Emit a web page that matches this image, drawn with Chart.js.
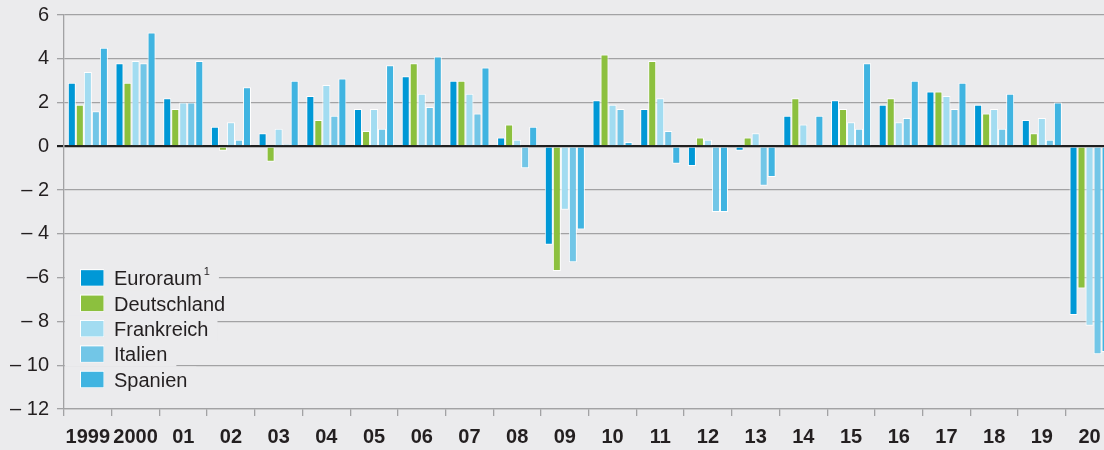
<!DOCTYPE html>
<html>
<head>
<meta charset="utf-8">
<script src="https://cdn.jsdelivr.net/npm/chart.js@4/dist/chart.umd.min.js"></script>
<style>
html,body{margin:0;padding:0;background:#ebebed;overflow:hidden;width:1104px;height:450px;}
#wrap{width:1120px;height:450px;}
canvas{display:block;}
</style>
</head>
<body>
<div id="wrap"><canvas id="c" width="1120" height="450"></canvas></div>
<script>
const categories = ['1999','2000','01','02','03','04','05','06','07','08','09','10','11','12','13','14','15','16','17','18','19','20'];
const seriesNames = ['Euroraum','Deutschland','Frankreich','Italien','Spanien'];
const legendSuperscripts = ['1','','','',''];
const euroraum    = [2.9,3.8,2.2,0.9,0.6,2.3,1.7,3.2,3.0,0.4,-4.5,2.1,1.7,-0.9,-0.2,1.4,2.1,1.9,2.5,1.9,1.2,-7.7];
const deutschland = [1.9,2.9,1.7,-0.2,-0.7,1.2,0.7,3.8,3.0,1.0,-5.7,4.2,3.9,0.4,0.4,2.2,1.7,2.2,2.5,1.5,0.6,-6.5];
const frankreich  = [3.4,3.9,2.0,1.1,0.8,2.8,1.7,2.4,2.4,0.3,-2.9,1.9,2.2,0.3,0.6,1.0,1.1,1.1,2.3,1.7,1.3,-8.2];
const italien     = [1.6,3.8,2.0,0.3,0.1,1.4,0.8,1.8,1.5,-1.0,-5.3,1.7,0.7,-3.0,-1.8,0.0,0.8,1.3,1.7,0.8,0.3,-9.5];
const spanien     = [4.5,5.2,3.9,2.7,3.0,3.1,3.7,4.1,3.6,0.9,-3.8,0.2,-0.8,-3.0,-1.4,1.4,3.8,3.0,2.9,2.4,2.0,-9.4];
const yTickValues = [-12,-10,-8,-6,-4,-2,0,2,4,6];
const yTickLabels = ['\u2013 12','\u2013 10','\u2013 8','\u20136','\u2013 4','\u2013 2','0','2','4','6'];

const colors = ['#0098d6','#8cc03e','#a2dcf1','#72c6e7','#40b4e1'];
const seriesData = [euroraum, deutschland, frankreich, italien, spanien];
const FONT = '"Liberation Sans", Arial, Helvetica, sans-serif';
const TEXT = '#231f20';
const GRID = '#a2a2a4';

const insideLegend = {
  id: 'insideLegend',
  afterDraw(chart) {
    const ctx = chart.ctx;
    const area = chart.chartArea;
    const y0 = chart.scales.y.getPixelForValue(-6);
    const rowH = 25.4;
    ctx.save();
    ctx.font = '20px ' + FONT;
    ctx.textBaseline = 'alphabetic';
    chart.data.datasets.forEach((ds, i) => {
      const cy = y0 + i * rowH;
      const tx = area.left + 50;
      let w = ctx.measureText(ds.label).width;
      const sup = legendSuperscripts[i];
      ctx.font = '11px ' + FONT;
      const sw = sup ? ctx.measureText(sup).width + 2 : 0;
      ctx.font = '20px ' + FONT;
      ctx.fillStyle = '#ebebed';
      ctx.fillRect(area.left + 1, cy - rowH / 2, tx - area.left + w + sw + 8, rowH);
      ctx.fillStyle = '#ffffff';
      ctx.fillRect(area.left + 16, cy - 8.5, 24, 17);
      ctx.fillStyle = ds.backgroundColor;
      ctx.fillRect(area.left + 17, cy - 7.5, 22.5, 15.5);
      ctx.fillStyle = TEXT;
      ctx.fillText(ds.label, tx, cy + 7.5);
      if (sup) {
        ctx.font = '11px ' + FONT;
        ctx.fillText(sup, tx + w + 2, cy - 3);
        ctx.font = '20px ' + FONT;
      }
    });
    ctx.restore();
  }
};

new Chart(document.getElementById('c'), {
  type: 'bar',
  data: {
    labels: categories,
    datasets: seriesNames.map((name, i) => ({
      label: name,
      data: seriesData[i],
      backgroundColor: colors[i],
      borderColor: 'rgba(255,255,255,0.95)',
      borderWidth: 1,
      borderSkipped: 'start',
      categoryPercentage: 0.84,
      barPercentage: 1.0
    }))
  },
  options: {
    responsive: false,
    animation: false,
    devicePixelRatio: 1,
    layout: { padding: { top: 15, right: 6.6, left: 0, bottom: 0 } },
    plugins: { legend: { display: false }, tooltip: { enabled: false } },
    scales: {
      x: {
        offset: true,
        grid: { drawOnChartArea: false, drawTicks: true, tickLength: 7, color: GRID, lineWidth: 1.3, offset: true },
        border: { display: true, color: GRID, width: 1.3 },
        ticks: {
          autoSkip: false, maxRotation: 0, minRotation: 0,
          color: TEXT, padding: 9,
          font: { family: FONT, size: 20, weight: 'bold' }
        },
        afterFit(scale) { scale.height = 41; scale.paddingLeft = 0; scale.paddingRight = 0; }
      },
      y: {
        min: -12, max: 6,
        afterBuildTicks(scale) { scale.ticks = yTickValues.map(v => ({ value: v })); },
        grid: {
          drawTicks: true, tickLength: 7,
          color: ctx => (ctx.tick && ctx.tick.value === 0) ? '#1f1f1f' : GRID,
          lineWidth: ctx => (ctx.tick && ctx.tick.value === 0) ? 2.2 : 1.3
        },
        border: { display: true, color: GRID, width: 1.3 },
        ticks: {
          color: TEXT, padding: 8,
          font: { family: FONT, size: 20 },
          callback: (v) => { const k = yTickValues.indexOf(v); return k >= 0 ? yTickLabels[k] : ''; }
        },
        afterFit(scale) { scale.width = 64; scale.paddingTop = 0; scale.paddingBottom = 0; }
      }
    }
  },
  plugins: [insideLegend]
});
</script>
</body>
</html>
